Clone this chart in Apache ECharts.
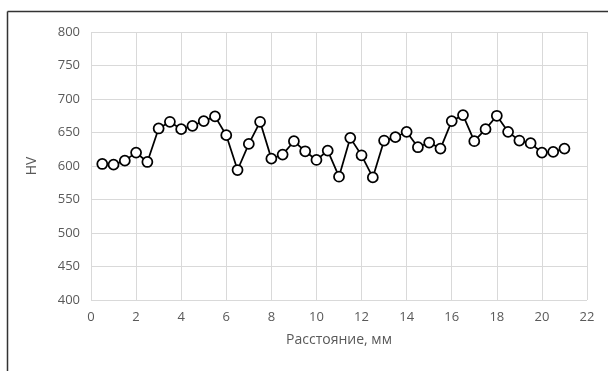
<!DOCTYPE html>
<html><head><meta charset="utf-8">
<script src="https://cdn.jsdelivr.net/npm/echarts@6/dist/echarts.min.js"></script>
<style>html,body{margin:0;padding:0;background:#fff}#c{width:608px;height:371px}</style>
</head><body><div id="c"></div>
<script>
const distances = [0.5,1,1.5,2,2.5,3,3.5,4,4.5,5,5.5,6,6.5,7,7.5,8,8.5,9,9.5,10,10.5,11,11.5,12,12.5,13,13.5,14,14.5,15,15.5,16,16.5,17,17.5,18,18.5,19,19.5,20,20.5,21];
const hardness = [603,602,608,620,606,656,666,655,660,667,674,646,594,633,666,611,617,637,622,609,623,584,642,616,583,638,643,651,628,635,626,667,676,637,655,675,651,638,634,620,621,626];
const xLabel = 'Расстояние, мм';
const yLabel = 'HV';
const chart = echarts.init(document.getElementById('c'));
const font = '"Open Sans", "Liberation Sans", sans-serif';
chart.setOption({
  animation:false,
  grid:{left:91,right:21,top:32,bottom:71},
  graphic:[
    {type:'line',shape:{x1:7.5,y1:11.5,x2:608,y2:11.5},style:{stroke:'#333',lineWidth:1.5}},
    {type:'line',shape:{x1:7.5,y1:11.5,x2:7.5,y2:371},style:{stroke:'#333',lineWidth:1.5}}
  ],
  xAxis:{type:'value',min:0,max:22,interval:2,
    name:xLabel,nameLocation:'middle',nameGap:33,
    nameTextStyle:{color:'#595959',fontSize:14,fontFamily:font},
    axisLine:{show:false},axisTick:{show:false},
    axisLabel:{color:'#595959',fontSize:13,fontFamily:font,margin:11},
    splitLine:{show:true,lineStyle:{color:'#d9d9d9',width:1}}},
  yAxis:{type:'value',min:400,max:800,interval:50,
    name:yLabel,nameLocation:'middle',nameGap:52,
    nameTextStyle:{color:'#595959',fontSize:14,fontFamily:font},
    axisLine:{show:false},axisTick:{show:false},
    axisLabel:{color:'#595959',fontSize:13,fontFamily:font,margin:11},
    splitLine:{show:true,lineStyle:{color:'#d9d9d9',width:1}}},
  series:[{type:'line',data:distances.map((d,i)=>[d,hardness[i]]),
    symbol:'circle',symbolSize:10,
    lineStyle:{color:'#000',width:1.75},
    itemStyle:{color:'#fff',borderColor:'#000',borderWidth:1.75}}]
});
</script></body></html>
